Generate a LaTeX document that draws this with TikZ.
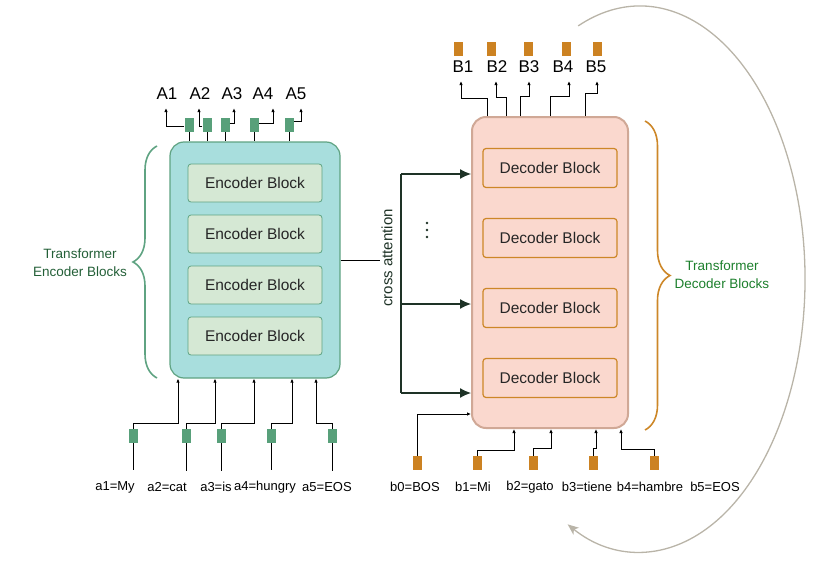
\documentclass[tikz,border=0pt]{standalone}
\usepackage{fontspec}
\setmainfont{Liberation Sans}
\usepackage{tikz}
\usetikzlibrary{calc}
\usetikzlibrary{arrows.meta}
\usetikzlibrary{decorations.pathreplacing}
\definecolor{encfill}{RGB}{168,222,221}
\definecolor{encline}{RGB}{95,163,130}
\definecolor{blockfill}{RGB}{213,232,212}
\definecolor{tokgreen}{RGB}{88,160,122}
\definecolor{decfill}{RGB}{250,216,206}
\definecolor{decline}{RGB}{208,168,150}
\definecolor{decedge}{RGB}{205,135,40}
\definecolor{tokorange}{RGB}{204,130,34}
\definecolor{labgreen}{RGB}{35,95,55}
\definecolor{crossink}{RGB}{30,50,38}
\definecolor{loopgray}{RGB}{185,180,168}
\tikzset{
	encbox/.style={draw=encline, fill=encfill, line width=1.2pt, rounded corners=14pt},
	decbox/.style={draw=decline, fill=decfill, line width=2pt, rounded corners=14pt},
	encblock/.style={draw=encline, fill=blockfill, line width=0.8pt, rounded corners=3pt,
		minimum width=134pt, minimum height=38pt, text=black!85, font=\fontsize{15.5}{18}\selectfont},
	decblock/.style={draw=decedge, fill=decfill, line width=1.2pt, rounded corners=3pt,
		minimum width=134pt, minimum height=39pt, text=black!85, font=\fontsize{15.5}{18}\selectfont},
	tok/.style={minimum width=9pt, minimum height=14pt, inner sep=0pt},
	toplabel/.style={font=\fontsize{17}{20}\selectfont, inner sep=3pt},
	toklabel/.style={font=\fontsize{13}{15}\selectfont, inner sep=3pt},
	bracetext/.style={align=center, font=\fontsize{13.5}{18}\selectfont, text=labgreen},
	tip/.style={line width=0.9pt, -{Latex[length=4pt,width=3.5pt]}},
	uptip/.style={tip, shorten >=5pt},
	crossline/.style={draw=crossink, line width=1.2pt},
	bigtip/.style={crossline, -{Latex[length=11pt,width=10pt]}},
	encbrace/.style={draw=encline, line width=1.6pt, decorate, decoration={brace, amplitude=24pt}},
	decbrace/.style={draw=decedge, line width=1.6pt, decorate, decoration={brace, amplitude=25pt}},
	loopline/.style={draw=loopgray, line width=1.3pt, -{Stealth[length=11pt,width=9pt,inset=3pt]}}
}

\begin{document}
\begin{tikzpicture}[x=1pt, y=-1pt]
	\useasboundingbox (0,0) rectangle (823,570);
	% encoder side
	\node[encbox, minimum width=170pt, minimum height=236pt] (enc) at (255,260) {};
	\foreach \i/\y in {1/183,2/234,3/285,4/336}
		\node[encblock] (eb\i) at (255,\y) {Encoder Block};
	\foreach \i/\x/\lx/\side/\dy/\dx in {1/189/167/west/-1/-1,2/207/200/west/-1/-1,3/225/232/east/2/2,4/254/263/east/2/10,5/289/296/east/4/5} {
		\node[tok, fill=tokgreen] (o\i) at (\x,125) {};
		\node[toplabel] (A\i) at (\lx,94) {A\i};
		\draw[line width=0.9pt] (o\i.south) -- (o\i.south |- enc.north);
		\draw[uptip] ([yshift=\dy pt]o\i.\side) -| ([xshift=\dx pt]A\i.south);
	}
	\foreach \i/\x/\ax/\lx/\txt in {1/133/178/115/a1=My,2/186/215/167/a2=cat,3/221/254/216/a3=is,4/271/292/265/a4=hungry,5/332/316/327/a5=EOS} {
		\node[tok, fill=tokgreen] (a\i) at (\x,436) {};
		\node[toklabel] (la\i) at (\lx,487) {\txt};
		\draw[line width=0.9pt, shorten >=8pt] (a\i.south) -- (a\i.south |- la\i.north);
		\draw[tip] (a\i.north) -- ++(0,-5) -| (enc.south -| \ax,0);
	}
	\draw[encbrace] (157,378) -- (157,146);
	\node[bracetext] (enclab) at (80,263) {Transformer\\Encoder Blocks};
	% decoder side
	\node[decbox, minimum width=156pt, minimum height=311pt] (dec) at (550,272.5) {};
	\foreach \i/\y in {1/168,2/238,3/308,4/378}
		\node[decblock] (db\i) at (550,\y) {Decoder Block};
	\foreach \i/\x/\lx/\sx/\h/\dx in {1/458/463/487/18/-2,2/491/497/506/19/-1,3/528/529/520/20/0,4/566/563/550/20/6,5/597/596/585/23/1} {
		\node[tok, fill=tokorange] (p\i) at (\x,48.5) {};
		\node[toplabel] (B\i) at (\lx,67) {B\i};
		\draw[uptip] (dec.north -| \sx,0) -- ++(0,-\h) -| ([xshift=\dx pt]B\i.south);
	}
	\node[tok, fill=tokorange] (b0) at (417,463) {};
	\draw[tip] (b0.north) |- (dec.west |- 0,414);
	\foreach \i/\x/\ax/\h in {1/477/514/5,2/533/551/7,3/593/596/7,4/654/621/6} {
		\node[tok, fill=tokorange] (b\i) at (\x,463) {};
		\draw[tip] (b\i.north) -- ++(0,-\h) -| (dec.south -| \ax,0);
	}
	\foreach \i/\lx/\txt in {0/415/b0=BOS,1/473/b1=Mi,2/530/b2=gato,3/587/b3=tiene,4/650/b4=hambre,5/715/b5=EOS}
		\node[toklabel] (lb\i) at (\lx,487) {\txt};
	\draw[decbrace] (645,121) -- (645,430);
	\node[bracetext, text=labgreen!80!green] (declab) at (722,275) {Transformer\\Decoder Blocks};
	% cross attention
	\coordinate (ca) at (380,260);
	\coordinate (ct) at (401,174);
	\coordinate (cm) at (401,304);
	\coordinate (cb) at (401,393);
	\draw[line width=0.9pt] (enc.east) -- (ca);
	\node[rotate=90, font=\fontsize{15}{18}\selectfont, text=crossink] (catext) at (387,258) {cross attention};
	\draw[crossline] (ct) -- (cb);
	\draw[bigtip] (ct) -- (ct -| dec.west);
	\draw[bigtip] (cm) -- (cm -| dec.west);
	\draw[bigtip] (cb) -- (cb -| dec.west);
	\foreach \y in {223,230,237}
		\fill[crossink] (427,\y) circle (1.3pt);
	% autoregressive loop
	\coordinate (loopc) at (640,279);
	\draw[loopline] (loopc) ++(-112:165 and 273) arc[start angle=-112, end angle=116, x radius=165, y radius=273];
\end{tikzpicture}
\end{document}
